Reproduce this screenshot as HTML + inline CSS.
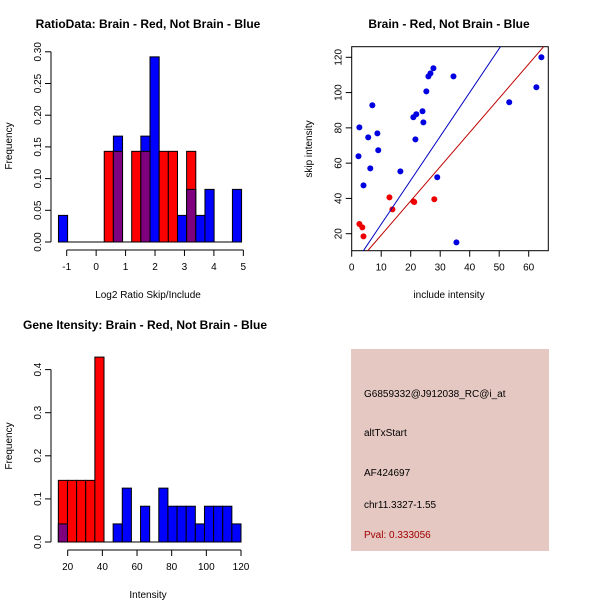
<!DOCTYPE html>
<html><head><meta charset="utf-8"><style>
html,body{margin:0;padding:0;background:#fff}
svg{display:block;font-family:"Liberation Sans",Arial,sans-serif}
</style></head><body>
<svg id="c" width="600" height="600" viewBox="0 0 600 600">
<rect width="600" height="600" fill="#fff"/>
<text x="148" y="28" text-anchor="middle" font-size="12" font-weight="bold">RatioData: Brain - Red, Not Brain - Blue</text>
<text x="449" y="28" text-anchor="middle" font-size="12" font-weight="bold">Brain - Red, Not Brain - Blue</text>
<text x="145" y="329" text-anchor="middle" font-size="12" font-weight="bold">Gene Itensity: Brain - Red, Not Brain - Blue</text>
<text x="148" y="298" text-anchor="middle" font-size="10">Log2 Ratio Skip/Include</text>
<text x="12" y="146" text-anchor="middle" font-size="10" transform="rotate(-90 12 146)">Frequency</text>
<text x="449" y="298" text-anchor="middle" font-size="10">include intensity</text>
<text x="312" y="149" text-anchor="middle" font-size="10" transform="rotate(-90 312 149)">skip intensity</text>
<text x="148" y="598" text-anchor="middle" font-size="10">Intensity</text>
<text x="12" y="446" text-anchor="middle" font-size="10" transform="rotate(-90 12 446)">Frequency</text>
<g id="h1"></g>
<g id="sc"></g>
<g id="h2"></g>
<g>
<rect x="351" y="349" width="198" height="202" fill="#e5c8c2"/>
<text x="364" y="397" font-size="10">G6859332@J912038_RC@i_at</text>
<text x="364" y="436" font-size="10">altTxStart</text>
<text x="364" y="476" font-size="10">AF424697</text>
<text x="364" y="508" font-size="10">chr11.3327-1.55</text>
<text x="364" y="538" font-size="10" fill="#a00000">Pval: 0.333056</text>
</g>
</svg>
<script>
const NS="http://www.w3.org/2000/svg";
// Ratio histogram data
const ratioStart=-1.28, ratioWidth=0.311;
const ratioBlue=[0.042,0,0,0,0,0,0.167,0,0,0.167,0.292,0,0,0.042,0.083,0.042,0.083,0,0,0.083];
const ratioRed=[0,0,0,0,0,0.143,0.143,0,0.143,0.143,0,0.143,0.143,0,0.143,0,0,0,0,0];
const ratioXTicks=[-1,0,1,2,3,4,5];
const ratioYTicks=[0,0.05,0.10,0.15,0.20,0.25,0.30];
const ratioYLabels=["0.00","0.05","0.10","0.15","0.20","0.25","0.30"];
// Intensity histogram data
const intStart=14.6, intWidth=5.27;
const intBlue=[0.042,0,0,0,0,0,0.042,0.125,0,0.083,0,0.125,0.083,0.083,0.083,0.042,0.083,0.083,0.083,0.042];
const intRed=[0.143,0.143,0.143,0.143,0.429,0,0,0,0,0,0,0,0,0,0,0,0,0,0,0];
const intXTicks=[20,40,60,80,100,120];
const intYTicks=[0,0.1,0.2,0.3,0.4];
const intYLabels=["0.0","0.1","0.2","0.3","0.4"];
// Scatter data
const blueX=[2.3,2.6,4.0,5.6,6.3,7.0,8.7,9.0,16.5,20.9,21.9,21.6,24.0,24.3,25.3,26.0,26.7,27.7,29.0,34.5,35.5,53.4,62.6,64.3];
const blueY=[63.9,80.3,47.4,74.6,57.0,92.8,76.9,67.3,55.3,86.0,87.7,73.5,89.4,83.1,100.7,109.2,110.9,113.8,52.0,109.2,15.1,94.5,103.0,120.0];
const redX=[2.6,3.6,4.0,12.8,13.8,20.9,21.2,28.0];
const redY=[25.5,23.6,18.5,40.6,33.8,38.3,38.0,39.5];
const blueFit=[0.47,2.49];
const redFit=[-0.2,1.94];
const scXTicks=[0,10,20,30,40,50,60];
const scYTicks=[20,40,60,80,100,120];

function el(tag,attrs,parent){const e=document.createElementNS(NS,tag);for(const k in attrs)e.setAttribute(k,attrs[k]);parent.appendChild(e);return e;}

function hist(g,cfg){
  const X=v=>cfg.x0+(v-cfg.v0)*cfg.sx, Y=v=>cfg.y0-v*cfg.sy;
  for(let i=0;i<cfg.blue.length;i++){
    const l=X(cfg.start+i*cfg.w), r=X(cfg.start+(i+1)*cfg.w);
    const b=cfg.blue[i], rd=cfg.red[i];
    const draw=(h,col,nm)=>{const e=el('rect',{x:l,y:Y(h),width:r-l,height:Y(0)-Y(h),fill:col,stroke:'#000','stroke-width':1},g);
      
      };
    const mn=Math.min(b,rd);
    if(b>mn) draw(b,'#0000ff','bar-blue-'+i);
    if(rd>mn) draw(rd,'#ff0000','bar-red-'+i);
    if(mn>0) draw(mn,'#7f007f','bar-overlap-'+i);
  }
  el('line',{x1:X(cfg.start),x2:X(cfg.start+cfg.blue.length*cfg.w),y1:Y(0),y2:Y(0),stroke:'#000'},g);
  const ay=cfg.axisY;
  el('line',{x1:X(cfg.xt[0]),x2:X(cfg.xt[cfg.xt.length-1]),y1:ay,y2:ay,stroke:'#000'},g);
  cfg.xt.forEach(t=>{el('line',{x1:X(t),x2:X(t),y1:ay,y2:ay+6,stroke:'#000'},g);
    const tx=el('text',{x:X(t),y:ay+20,'text-anchor':'middle','font-size':10},g);tx.textContent=t;
    
    });
  const ax=cfg.axisX;
  el('line',{x1:ax,x2:ax,y1:Y(cfg.yt[0]),y2:Y(cfg.yt[cfg.yt.length-1]),stroke:'#000'},g);
  cfg.yt.forEach((t,i)=>{el('line',{x1:ax-6,x2:ax,y1:Y(t),y2:Y(t),stroke:'#000'},g);
    const tx=el('text',{x:ax-10,y:Y(t),'text-anchor':'middle','font-size':10,transform:`rotate(-90 ${ax-10} ${Y(t)})`},g);tx.textContent=cfg.yl[i];
    
    });
}
hist(document.getElementById('h1'),{x0:66.7,v0:-1,sx:29.44,y0:242,sy:634,start:ratioStart,w:ratioWidth,blue:ratioBlue,red:ratioRed,xt:ratioXTicks,yt:ratioYTicks,yl:ratioYLabels,axisY:250,axisX:51});
hist(document.getElementById('h2'),{x0:67.7,v0:20,sx:1.733,y0:542,sy:431,start:intStart,w:intWidth,blue:intBlue,red:intRed,xt:intXTicks,yt:intYTicks,yl:intYLabels,axisY:550,axisX:51});

(function(){
  const g=document.getElementById('sc');
  const X=v=>351.7+v*2.95, Y=v=>57.3+(120-v)*1.764;
  const L=351.7,R=548.3,T=46.7,B=250.7;
  el('rect',{x:L,y:T,width:R-L,height:B-T,fill:'none',stroke:'#000'},g);
  const clip=el('clipPath',{id:'scclip'},g);el('rect',{x:L,y:T,width:R-L,height:B-T},clip);
  blueX.forEach((x,i)=>{const c=el('circle',{cx:X(x),cy:Y(blueY[i]),r:3,fill:'#0000e0'},g);
    
    });
  redX.forEach((x,i)=>{const c=el('circle',{cx:X(x),cy:Y(redY[i]),r:3,fill:'#ee0000'},g);
    
    });
  [[blueFit,'#0000c0','fit-line-blue'],[redFit,'#c00000','fit-line-red']].forEach(([f,col,nm])=>{
    const l=el('line',{x1:X(0),y1:Y(f[0]),x2:X(70),y2:Y(f[0]+f[1]*70),stroke:col,'stroke-width':1,'clip-path':'url(#scclip)'},g);
    
    });
  scXTicks.forEach(t=>{el('line',{x1:X(t),x2:X(t),y1:B,y2:B+6,stroke:'#000'},g);
    const tx=el('text',{x:X(t),y:B+20,'text-anchor':'middle','font-size':10},g);tx.textContent=t;
    
    });
  scYTicks.forEach(t=>{el('line',{x1:L-6,x2:L,y1:Y(t),y2:Y(t),stroke:'#000'},g);
    const tx=el('text',{x:L-10,y:Y(t),'text-anchor':'middle','font-size':10,transform:`rotate(-90 ${L-10} ${Y(t)})`},g);tx.textContent=t;
    
    });
})();
</script>
</body></html>
